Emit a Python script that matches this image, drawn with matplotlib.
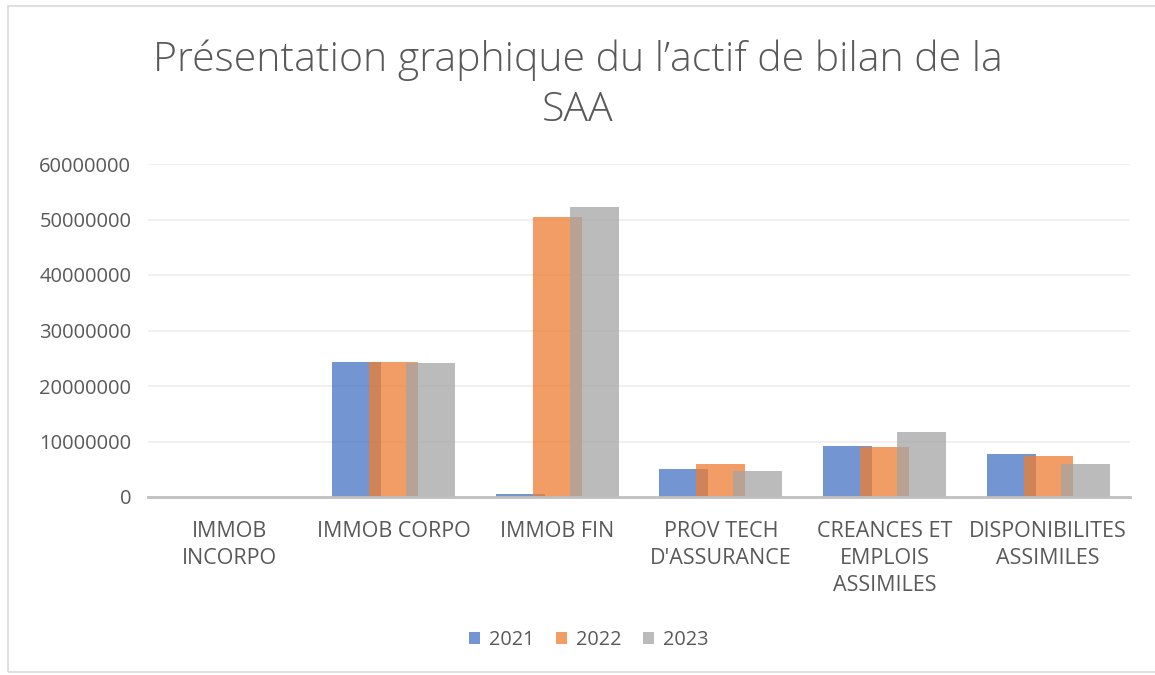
import matplotlib
matplotlib.use("Agg")
import matplotlib.pyplot as plt
import numpy as np
from matplotlib.patches import Rectangle

categories = ["IMMOB\nINCORPO", "IMMOB CORPO", "IMMOB FIN", "PROV TECH\nD'ASSURANCE",
              "CREANCES ET\nEMPLOIS\nASSIMILES", "DISPONIBILITES\nASSIMILES"]
series_names = ["2021", "2022", "2023"]
v2021 = [30000, 24400000, 500000, 5000000, 9200000, 7800000]
v2022 = [30000, 24400000, 50400000, 6000000, 9050000, 7400000]
v2023 = [30000, 24200000, 52200000, 4700000, 11700000, 5900000]
yticks = [0, 10000000, 20000000, 30000000, 40000000, 50000000, 60000000]

colors = ["#4472C4", "#ED7D31", "#A5A5A5"]
font = "Open Sans"
txt = "#595959"

fig = plt.figure(figsize=(11.55, 6.75), dpi=100)
fig.patches.append(Rectangle((8/1155, 3/675), 1 - 8/1155 + 0.01, 1 - 9/675, transform=fig.transFigure,
                             fill=False, edgecolor="#D9D9D9", linewidth=1.2))
ax = fig.add_axes([148/1155, 178/675, (1130-148)/1155, (497-164)/675])

x = np.arange(len(categories))
width = 0.30
offset = 0.226
for i, (vals, c) in enumerate(zip([v2021, v2022, v2023], colors)):
    ax.bar(x + (i - 1) * offset, vals, width, color=c, alpha=0.75, label=series_names[i],
           linewidth=0, zorder=3 + i)

ax.set_xlim(-0.5, len(categories) - 0.5)
ax.set_ylim(0, 60000000)
ax.set_yticks(yticks)
ax.set_yticklabels([str(t) for t in yticks], fontsize=14.5, color=txt, family=font)
ax.yaxis.grid(True, color="#EDEDED", linewidth=1.2, zorder=0)
ax.set_axisbelow(True)
ax.tick_params(axis="y", length=0, pad=12)
ax.tick_params(axis="x", length=0, pad=17)
ax.set_xticks(x)
ax.set_xticklabels(categories, fontsize=15.5, color=txt, family=font, linespacing=1.4)
for s in ["top", "right", "left"]:
    ax.spines[s].set_visible(False)
ax.spines["bottom"].set_color("#BFBFBF")
ax.spines["bottom"].set_linewidth(2)
ax.spines["bottom"].set_zorder(10)

fig.text(0.5, 1 - 85/675, "Présentation graphique du l’actif de bilan de la\nSAA", ha="center", va="center",
         fontsize=29.5, color=txt, family=font, fontweight="light", linespacing=1.3)

leg = fig.legend(loc="center", bbox_to_anchor=(589/1155, 1 - 640/675), ncol=3, frameon=False,
                 prop={"family": font, "size": 14.3}, handlelength=0.55, handleheight=0.55,
                 columnspacing=1.1, handletextpad=0.45)
for t in leg.get_texts():
    t.set_color(txt)

fig.savefig("out.png", dpi=100)
